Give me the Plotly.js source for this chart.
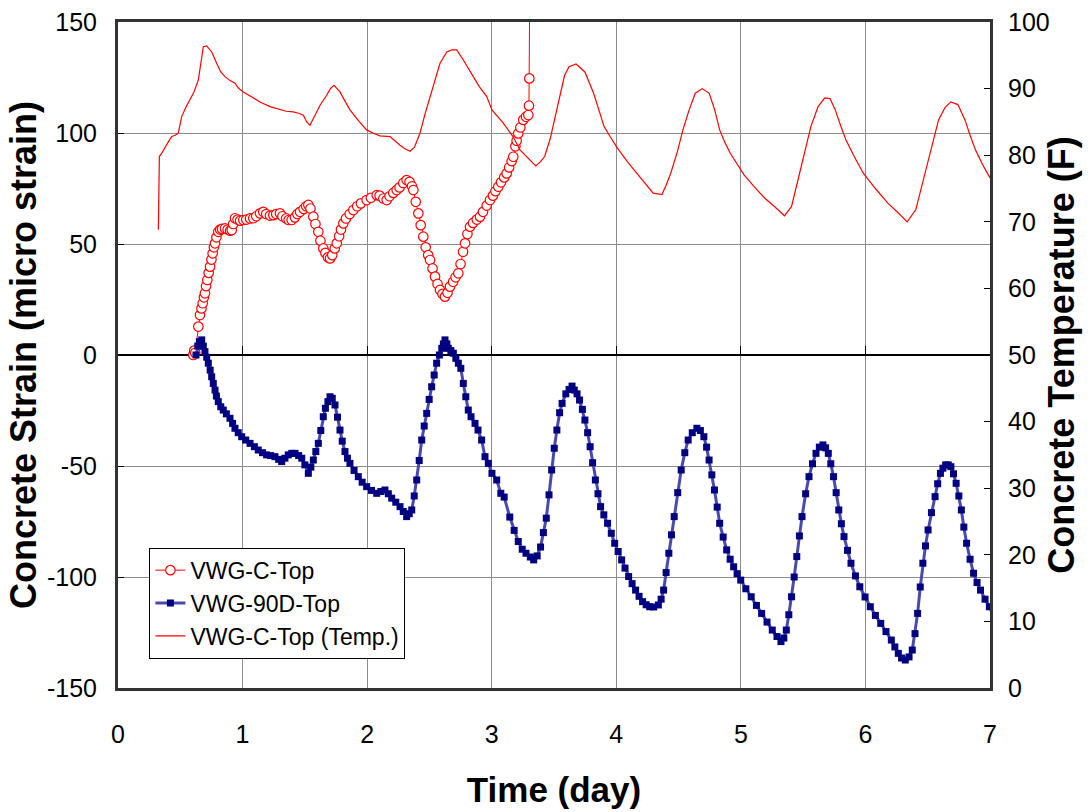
<!DOCTYPE html>
<html>
<head>
<meta charset="utf-8">
<script src="https://cdn.plot.ly/plotly-3.0.1.min.js"></script>
<style>html,body{margin:0;padding:0;background:#fff;}#chart{width:1092px;height:812px;}</style>
</head>
<body>
<div id="chart"></div>
<script>
// ---- Data ----
// VWG-C-Top strain (micro strain), left axis
const cTopDay = [0.604,0.612,0.620,0.645,0.658,0.670,0.680,0.690,0.698,0.707,0.717,0.728,0.739,0.750,0.760,0.770,0.779,0.790,0.805,0.820,0.835,0.859,0.880,0.900,0.913,0.925,0.939,0.960,0.980,1.006,1.030,1.060,1.086,1.110,1.140,1.166,1.190,1.220,1.247,1.270,1.300,1.320,1.350,1.370,1.394,1.420,1.440,1.461,1.490,1.510,1.528,1.545,1.568,1.585,1.608,1.625,1.648,1.665,1.685,1.702,1.720,1.740,1.756,1.775,1.790,1.809,1.830,1.860,1.889,1.920,1.950,1.996,2.030,2.077,2.100,2.130,2.157,2.180,2.210,2.237,2.260,2.290,2.317,2.340,2.360,2.371,2.390,2.411,2.430,2.451,2.470,2.490,2.505,2.525,2.545,2.565,2.585,2.605,2.625,2.645,2.665,2.690,2.710,2.732,2.750,2.770,2.786,2.805,2.826,2.850,2.880,2.906,2.930,2.960,2.986,3.010,3.030,3.053,3.075,3.100,3.120,3.140,3.160,3.173,3.190,3.200,3.213,3.230,3.253,3.275,3.294,3.299,3.302,3.307];
const cTopStrain = [0,2,1,12.8,18,21,23.3,26,27.8,31,33.8,37,39.8,43,45.8,48.5,50.3,53,55.5,56.5,56.8,57,56.5,56,56.3,59,61.6,61,60.5,60.8,61,61.5,61.6,62.5,63.8,64.5,63.5,62.8,63,63.5,63.8,62.5,61.5,60.8,60.8,62,63.5,64.5,65.8,67,67.6,66,62.3,59,55.5,51.5,48,46,44,43.5,45,48,50.3,53.5,56.5,59.3,61.5,63.5,65.3,67,68.3,69.8,70.8,72,71.8,70.5,69.8,71.5,73,74.3,75.5,77.5,78.8,78,76,74.3,69,63.8,58.5,53.3,48.5,45,42.8,39,35.3,32,29.3,27.5,26.3,28,30.8,33,35,36.8,41,46.5,50.3,54.5,57.8,59.5,61,62.3,64.5,67.3,69.8,71.8,73.8,75.8,77.8,80,81.8,84.5,87.3,89.3,94,96.5,99.8,102.5,105.9,107.3,108.1,112.3,124.6,180];

// VWG-90D-Top strain (micro strain), left axis
const d90Day = [0.626,0.640,0.653,0.672,0.685,0.698,0.712,0.725,0.740,0.752,0.765,0.779,0.790,0.805,0.825,0.845,0.870,0.899,0.920,0.939,0.965,0.993,1.025,1.060,1.095,1.126,1.160,1.193,1.225,1.260,1.290,1.314,1.340,1.367,1.395,1.421,1.450,1.475,1.500,1.528,1.548,1.568,1.588,1.608,1.628,1.648,1.665,1.685,1.702,1.720,1.742,1.762,1.782,1.800,1.822,1.842,1.862,1.895,1.929,1.960,1.996,2.035,2.077,2.110,2.143,2.170,2.197,2.230,2.264,2.290,2.317,2.338,2.358,2.378,2.398,2.418,2.438,2.458,2.478,2.498,2.518,2.538,2.558,2.580,2.599,2.612,2.625,2.640,2.652,2.672,2.692,2.712,2.732,2.752,2.772,2.792,2.812,2.834,2.866,2.890,2.919,2.946,2.973,3.002,3.040,3.073,3.100,3.145,3.180,3.213,3.245,3.275,3.310,3.337,3.365,3.392,3.415,3.438,3.460,3.481,3.502,3.523,3.545,3.565,3.595,3.621,3.645,3.663,3.685,3.705,3.728,3.748,3.770,3.790,3.810,3.832,3.853,3.874,3.900,3.930,3.960,3.987,4.015,4.043,4.070,4.099,4.127,4.155,4.183,4.211,4.240,4.268,4.300,4.338,4.360,4.380,4.400,4.422,4.443,4.465,4.493,4.521,4.550,4.577,4.610,4.647,4.675,4.703,4.725,4.745,4.767,4.788,4.810,4.830,4.858,4.886,4.914,4.942,4.970,4.999,5.040,5.083,5.125,5.167,5.210,5.252,5.290,5.322,5.345,5.365,5.385,5.407,5.428,5.449,5.470,5.491,5.520,5.547,5.575,5.603,5.630,5.659,5.680,5.702,5.722,5.744,5.765,5.786,5.807,5.828,5.856,5.884,5.920,5.955,5.997,6.039,6.080,6.123,6.165,6.208,6.236,6.264,6.290,6.320,6.350,6.376,6.398,6.419,6.440,6.461,6.482,6.503,6.530,6.559,6.580,6.602,6.622,6.644,6.665,6.686,6.707,6.728,6.750,6.770,6.790,6.812,6.840,6.868,6.896,6.924,6.960,6.995,7.030];
const d90Strain = [0,4,6,6.8,4,1.5,-1,-3.7,-6.8,-9.8,-12.8,-15.8,-18.5,-21,-23.3,-24.8,-26.5,-28.5,-30.8,-33,-35,-36.8,-38.3,-39.8,-41.3,-42.8,-44,-45,-45.3,-45.8,-47,-48,-46.5,-45,-44.3,-44.3,-45.3,-46.5,-49.5,-53.3,-50.5,-47.3,-43.5,-39.8,-34,-27.8,-24,-21,-18.8,-19.5,-22.5,-28,-33.8,-38.8,-43.5,-46.5,-48.8,-52,-54.8,-57.3,-59.3,-61,-62.3,-61.5,-60.8,-62.5,-64.5,-66.3,-68.3,-70.5,-72.8,-71.5,-69.8,-63.5,-56.3,-47.5,-38.3,-32,-26.3,-20,-14.3,-9,-3.7,0,3,5,6.8,5,3,2,0.8,-1.5,-3.7,-6,-12.8,-18.8,-24.8,-27.8,-30.8,-33.8,-38.3,-45.8,-48.8,-53.3,-56.3,-62.3,-64,-73,-79,-84,-87.5,-89.3,-91,-92.3,-90.5,-86.5,-80,-73.5,-63,-51.8,-42,-33.8,-26,-21.8,-17.5,-15.5,-14,-15.8,-17.5,-20.3,-24.5,-29.3,-35,-41.3,-48.5,-56.3,-62.5,-68.3,-72,-75.8,-80.3,-84.8,-88.5,-92.3,-96,-99.8,-103,-105.9,-108.7,-111.1,-112.5,-113.4,-113.5,-112.6,-110,-105.9,-98,-89.3,-81,-72.8,-62,-51.8,-44,-38.3,-35,-33,-34,-36.8,-41.5,-47.3,-54,-60.8,-68.5,-75.8,-82,-87.8,-92,-95.4,-98.5,-101.4,-105.3,-108.9,-112.8,-116.4,-120.3,-123.9,-126.8,-129.1,-127.5,-123.9,-117,-108.9,-100,-90.8,-81.5,-72.8,-62.5,-54.8,-49,-44.3,-41.5,-40.5,-41.8,-44.3,-49,-54.8,-62,-69.8,-76,-81.8,-88,-93.8,-99.5,-104.4,-109,-113.4,-117.3,-120.9,-124.6,-128.4,-131.5,-134.4,-136.5,-137.4,-136,-132.9,-125.5,-116.4,-104.5,-93.8,-86,-78.8,-71,-63.8,-58,-53.3,-51,-49.5,-49.5,-50.3,-53.5,-57.8,-63.5,-69.8,-77.5,-84.8,-92,-98.3,-102.5,-105.9,-110,-113.4,-118];

// VWG-C-Top temperature (F), right axis
const tempDay = [0.324,0.332,0.351,0.380,0.404,0.431,0.460,0.484,0.511,0.545,0.578,0.610,0.645,0.665,0.685,0.712,0.752,0.792,0.825,0.859,0.900,0.939,0.970,1.006,1.070,1.140,1.220,1.300,1.350,1.407,1.450,1.488,1.515,1.541,1.580,1.622,1.675,1.705,1.734,1.782,1.820,1.862,1.930,1.996,2.050,2.103,2.184,2.230,2.264,2.300,2.344,2.380,2.424,2.465,2.505,2.545,2.585,2.639,2.680,2.719,2.772,2.852,2.900,2.960,3.002,3.093,3.171,3.227,3.300,3.354,3.390,3.425,3.470,3.509,3.550,3.585,3.621,3.677,3.748,3.780,3.818,3.860,3.902,3.950,4.001,4.090,4.183,4.240,4.296,4.366,4.400,4.437,4.490,4.535,4.585,4.634,4.690,4.746,4.790,4.830,4.870,4.915,4.970,5.027,5.110,5.195,5.270,5.350,5.407,5.440,5.477,5.520,5.562,5.620,5.674,5.716,5.758,5.800,5.843,5.910,5.983,6.080,6.180,6.260,6.335,6.404,6.445,6.489,6.540,6.587,6.640,6.686,6.742,6.799,6.840,6.883,6.940,7.000];
const tempF = [68.8,79.8,80.3,81.3,82.0,82.8,83.0,83.3,85.8,87.2,88.3,89.5,91.3,94.0,96.3,96.4,95.5,93.8,92.5,91.8,91.2,90.8,90.0,89.5,88.8,88.0,87.3,86.8,86.6,86.5,86.3,86.0,85.0,84.5,86.0,87.5,89.0,90.0,90.5,89.5,88.2,86.8,85.2,83.8,83.3,82.9,82.8,82.0,81.5,81.0,80.6,81.2,83.3,86.2,88.8,91.5,93.8,95.5,95.8,95.8,94.3,91.8,90.3,88.8,86.8,84.8,82.8,80.8,79.5,78.4,79.0,79.8,82.5,85.8,89.5,92.0,93.3,93.7,92.5,91.0,89.3,86.8,84.3,82.8,81.3,79.0,76.8,75.5,74.3,74.1,75.5,77.3,80.5,83.8,86.8,89.3,90.0,89.3,86.8,83.8,82.0,80.3,78.6,77.0,75.2,73.5,72.3,70.9,72.3,74.8,77.8,81.2,84.3,87.3,88.6,88.5,86.8,84.5,82.3,79.8,77.3,75.0,72.8,71.4,70.0,71.8,74.8,78.3,82.0,85.3,87.2,88.0,87.6,85.3,83.0,80.8,78.6,76.6];

// Tick labels
const dayTicks = [0,1,2,3,4,5,6,7];
const strainTicks = [-150,-100,-50,0,50,100,150];
const tempTicks = [0,10,20,30,40,50,60,70,80,90,100];

const FONT = 'Arial, "Liberation Sans", sans-serif';

const traces = [
  {
    x: cTopDay, y: cTopStrain, name: 'VWG-C-Top', type: 'scatter', mode: 'lines+markers',
    line: {color: '#ff0000', width: 1},
    marker: {symbol: 'circle', size: 9.5, color: '#ffffff', line: {color: '#ff0000', width: 1.2}},
    xaxis: 'x', yaxis: 'y'
  },
  {
    x: d90Day, y: d90Strain, name: 'VWG-90D-Top', type: 'scatter', mode: 'lines+markers',
    line: {color: '#4a4aae', width: 3},
    marker: {symbol: 'square', size: 7, color: '#000080', line: {width: 0}},
    xaxis: 'x', yaxis: 'y'
  },
  {
    x: tempDay, y: tempF, name: 'VWG-C-Top (Temp.)', type: 'scatter', mode: 'lines',
    line: {color: '#ff0000', width: 1.2},
    xaxis: 'x', yaxis: 'y2'
  },
  {
    x: [], y: [], type: 'scatter', mode: 'lines', showlegend: false, hoverinfo: 'skip',
    xaxis: 'x2', yaxis: 'y'
  }
];

const layout = {
  width: 1092, height: 812,
  margin: {l: 118, r: 102, t: 22, b: 124},
  paper_bgcolor: '#ffffff', plot_bgcolor: '#ffffff',
  font: {family: FONT, color: '#000000', size: 25},
  showlegend: true,
  legend: {
    x: 0.036, y: 0.044, xanchor: 'left', yanchor: 'bottom',
    bgcolor: '#ffffff', bordercolor: '#000000', borderwidth: 1,
    font: {family: FONT, size: 23, color: '#000000'},
    tracegroupgap: 0, itemwidth: 30
  },
  xaxis: {
    range: [0, 7], tickvals: dayTicks, ticktext: dayTicks.map(String),
    showgrid: true, gridcolor: '#8c8c8c', gridwidth: 1,
    zeroline: false,
    showline: true, linecolor: '#333333', linewidth: 3, mirror: true,
    ticks: '', ticklabelstandoff: 22,
    tickfont: {family: FONT, size: 25, color: '#000000'},
    title: {text: '<b>Time (day)</b>', font: {family: FONT, size: 35, color: '#000000'}, standoff: 31}
  },
  xaxis2: {
    overlaying: 'x', anchor: 'free', position: 0.5, side: 'bottom',
    range: [0, 7], tickvals: dayTicks, showticklabels: false,
    ticks: 'inside', ticklen: 9, tickwidth: 1.2, tickcolor: '#000000',
    showgrid: false, zeroline: false, showline: false
  },
  yaxis: {
    range: [-150, 150], tickvals: strainTicks, ticktext: strainTicks.map(String),
    showgrid: true, gridcolor: '#8c8c8c', gridwidth: 1,
    zeroline: true, zerolinecolor: '#000000', zerolinewidth: 1.5,
    showline: true, linecolor: '#333333', linewidth: 3, mirror: true,
    ticks: 'inside', ticklen: 6, tickwidth: 1, tickcolor: '#000000',
    ticklabelstandoff: 13,
    tickfont: {family: FONT, size: 25, color: '#000000'},
    title: {text: '<b>Concrete Strain (micro strain)</b>', font: {family: FONT, size: 36, color: '#000000'}, standoff: 0}
  },
  yaxis2: {
    overlaying: 'y', side: 'right', anchor: 'x',
    range: [0, 100], tickvals: tempTicks, ticktext: tempTicks.map(String),
    showgrid: false, zeroline: false, showline: false,
    ticks: 'inside', ticklen: 6, tickwidth: 1, tickcolor: '#000000',
    ticklabelstandoff: 17,
    tickfont: {family: FONT, size: 25, color: '#000000'},
    title: {text: '<b>Concrete Temperature (F)</b>', font: {family: FONT, size: 36, color: '#000000'}, standoff: 0}
  }
};

Plotly.newPlot('chart', traces, layout, {displayModeBar: false, staticPlot: true});
</script>
</body>
</html>
